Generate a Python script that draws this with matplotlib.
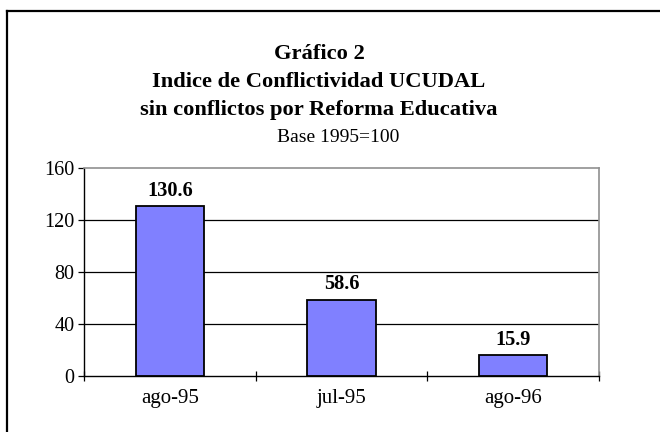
import matplotlib
matplotlib.use("Agg")
import matplotlib.pyplot as plt
from matplotlib.lines import Line2D
import numpy as np

categories = ["ago-95", "jul-95", "ago-96"]
values = [130.6, 58.6, 15.9]
yticks = [0, 40, 80, 120, 160]
title_lines = ["Gráfico 2", "Indice de Conflictividad UCUDAL",
               "sin conflictos por Reforma Educativa"]
subtitle = "Base 1995=100"

plt.rcParams['font.family'] = ['Liberation Serif', 'DejaVu Serif']

W, H = 660, 432
fig = plt.figure(figsize=(6.6, 4.32), dpi=100)
fig.patch.set_facecolor("white")

left, right, top, bottom = 84, 599, 168, 376
ax = fig.add_axes([left / W, 1 - bottom / H, (right - left) / W, (bottom - top) / H])

x = np.arange(len(categories))
ax.bar(x, values, width=0.4, color="#8080FF", edgecolor="black", linewidth=1.3, zorder=3)

ax.set_xlim(-0.5, len(categories) - 0.5)
ax.set_ylim(0, 160)
ax.set_yticks(yticks)
ax.set_yticklabels([str(t) for t in yticks], fontsize=14.5)
for t in yticks[1:-1]:
    ax.axhline(t, color="black", linewidth=0.9, zorder=1)

ax.set_xticks(x)
ax.set_xticklabels(categories, fontsize=15)
ax.tick_params(axis="x", length=0, pad=9)
ax.set_xticks(np.arange(len(categories) + 1) - 0.5, minor=True)
ax.tick_params(axis="x", which="minor", direction="inout", length=7.5, width=0.9, color="black")
ax.tick_params(axis="y", direction="out", length=4, width=0.9, color="black", pad=3)

for s in ["top", "right"]:
    ax.spines[s].set_color("#909090")
    ax.spines[s].set_linewidth(1.2)
for s in ["left", "bottom"]:
    ax.spines[s].set_color("black")
    ax.spines[s].set_linewidth(1.0)

for xi, v in zip(x, values):
    ax.annotate(f"{v:.1f}", (xi, v), xytext=(0, 4), textcoords="offset points",
                ha="center", va="bottom", fontsize=14.7, fontweight="bold")

# Titles
ys = [54, 82, 110]
for line, yy in zip(title_lines, ys):
    fig.text(319 / W, 1 - yy / H, line, ha="center", va="center",
             fontsize=16.2, fontweight="bold")
fig.text(338 / W, 1 - 137 / H, subtitle, ha="center", va="center", fontsize=14)

# outer frame (left and top visible)
fig.add_artist(Line2D([7 / W, 7 / W], [0, 1 - 11 / H], transform=fig.transFigure,
                      color="black", linewidth=1.6))
fig.add_artist(Line2D([7 / W, 1], [1 - 11 / H, 1 - 11 / H], transform=fig.transFigure,
                      color="black", linewidth=1.6))

fig.savefig("out.png", dpi=100)
